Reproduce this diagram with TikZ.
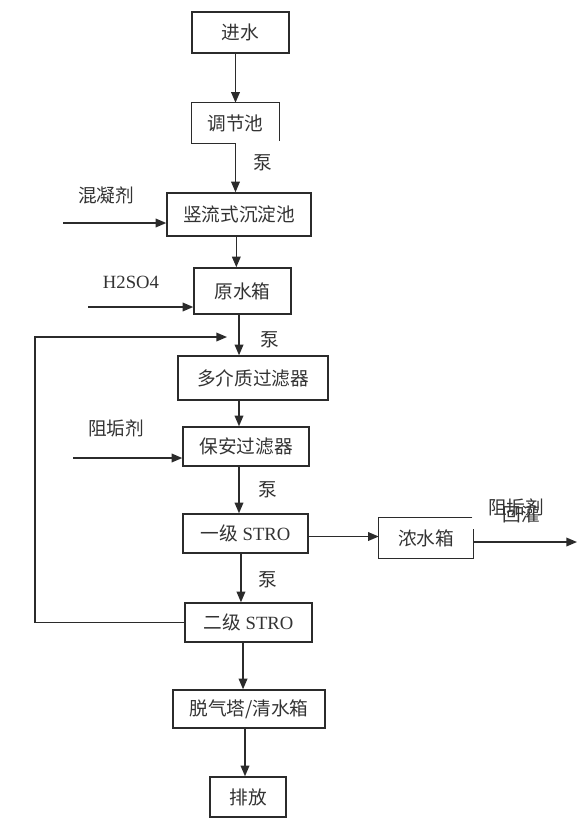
\documentclass[tikz,border=0pt]{standalone}
\usepackage{fontspec}
\usepackage{xcolor}
\usepackage{tikz}
\setmainfont{Liberation Serif}
\newfontfamily\cjk{Noto Sans CJK SC}
\newcommand{\zh}[1]{{\cjk #1}}
\usetikzlibrary{arrows.meta,positioning}
\definecolor{lineInk}{HTML}{2B2B2B}
\definecolor{textInk}{HTML}{333333}
\tikzset{
  flowBox/.style={draw=lineInk, line width=1.1pt, inner sep=0pt, align=center, text=textInk, font=\fontsize{14}{17}\selectfont},
  openBox/.style={inner sep=0pt, align=center, text=textInk, font=\fontsize{14}{17}\selectfont},
  boxLine/.style={line width=1.1pt, draw=lineInk},
  flowArrow/.style={-{Triangle[length=8pt,width=6.5pt]}, line width=1.1pt, draw=lineInk},
  sideLabel/.style={inner sep=0pt, text=textInk, font=\fontsize{14}{17}\selectfont}
}

\begin{document}
\begin{tikzpicture}[x=0.75pt,y=-0.75pt]
  \useasboundingbox (0,0) rectangle (585,826);
  % main column
  \node[flowBox, minimum width=72.75pt, minimum height=30.75pt] (jinshui) at (240.5,32.5) {\zh{进水}};
  \node[openBox, minimum width=65.25pt, minimum height=30pt] (tiaojie) at (235.5,123) {\zh{调节池}};
  \node[flowBox, minimum width=108pt, minimum height=32.25pt] (chendian) at (239,214.5) {\zh{竖流式沉淀池}};
  \node[flowBox, minimum width=72.75pt, minimum height=34.5pt] (yuanshui) at (242.5,291) {\zh{原水箱}};
  \node[flowBox, minimum width=112.5pt, minimum height=33pt] (duojie) at (253,378) {\zh{多介质过滤器}};
  \node[flowBox, minimum width=94.5pt, minimum height=29.25pt] (baoan) at (246,446.5) {\zh{保安过滤器}};
  \node[flowBox, minimum width=93.75pt, minimum height=29.25pt] (yiji) at (245.5,533.5) {\zh{一级} STRO};
  \node[openBox, minimum width=70.5pt, minimum height=30pt] (nongshui) at (426,538) {\zh{浓水箱}};
  \node[flowBox, minimum width=95.25pt, minimum height=29.25pt] (erji) at (248.5,622.5) {\zh{二级} STRO};
  \node[flowBox, minimum width=114pt, minimum height=28.5pt] (tuoqi) at (249,709) {\zh{脱气塔/清水箱}};
  \node[flowBox, minimum width=57pt, minimum height=30pt] (paifang) at (248,797) {\zh{排放}};

  % open outlines
  \draw[boxLine] (tiaojie.south) -- (tiaojie.south west) -- (tiaojie.north west) -- (tiaojie.north east) -- ([yshift=2pt]tiaojie.south east);
  \draw[boxLine] ([xshift=-0.75pt]nongshui.north east) -- (nongshui.north west) -- (nongshui.south west) -- (nongshui.south east) -- ([yshift=-8.25pt]nongshui.north east);

  % dosing labels
  \node[sideLabel] (hunning) at (106,195) {\zh{混凝剂}};
  \node[sideLabel] (liusuan) at (131,282) {H2SO4};
  \node[sideLabel] (zugouA) at (116,428) {\zh{阻垢剂}};
  \node[sideLabel] (zugouB) at (516,507) {\zh{阻垢剂}};
  \node[sideLabel] (huiguan) at (521,514) {\zh{回灌}};
  \node[sideLabel] (bengA) at (263,163) {\zh{泵}};
  \node[sideLabel] (bengB) at (270,340) {\zh{泵}};
  \node[sideLabel] (bengC) at (268,490) {\zh{泵}};
  \node[sideLabel] (bengD) at (268,580) {\zh{泵}};

  \coordinate (hunningIn) at (63,223);
  \coordinate (liusuanIn) at (88,307);
  \coordinate (zugouIn) at (73,458);
  \coordinate (fbCorner) at (35,337);
  \coordinate (fbEnd) at (227,337);
  \coordinate (outEnd) at (577,542);

  % flow
  \draw[flowArrow] (jinshui.south -| tiaojie.north) -- (tiaojie.north);
  \draw[flowArrow] (tiaojie.south) -- (tiaojie.south |- chendian.north);
  \draw[flowArrow] ([xshift=-2pt]chendian.south) -- ([xshift=-2pt]chendian.south |- yuanshui.north);
  \draw[flowArrow] ([xshift=-2.6pt]yuanshui.south) -- ([xshift=-2.6pt]yuanshui.south |- duojie.north);
  \draw[flowArrow] ([xshift=-10.5pt]duojie.south) -- ([xshift=-10.5pt]duojie.south |- baoan.north);
  \draw[flowArrow] ([xshift=-5.25pt]baoan.south) -- ([xshift=-5.25pt]baoan.south |- yiji.north);
  \draw[flowArrow] ([xshift=-3.4pt]yiji.south) -- ([xshift=-3.4pt]yiji.south |- erji.north);
  \draw[flowArrow] ([xshift=-4.1pt]erji.south) -- ([xshift=-4.1pt]erji.south |- tuoqi.north);
  \draw[flowArrow] ([xshift=-3pt]tuoqi.south) -- ([xshift=-3pt]tuoqi.south |- paifang.north);
  \draw[flowArrow] ([yshift=-2.25pt]yiji.east) -- ([yshift=-2.25pt]yiji.east -| nongshui.west);
  \draw[flowArrow] (nongshui.east |- outEnd) -- (outEnd);

  % dosing and return
  \draw[flowArrow] (hunningIn) -- (hunningIn -| chendian.west);
  \draw[flowArrow] (liusuanIn) -- (liusuanIn -| yuanshui.west);
  \draw[flowArrow] (zugouIn) -- (zugouIn -| baoan.west);
  \draw[flowArrow] (erji.west) -| (fbCorner) -- (fbEnd);
\end{tikzpicture}
\end{document}
